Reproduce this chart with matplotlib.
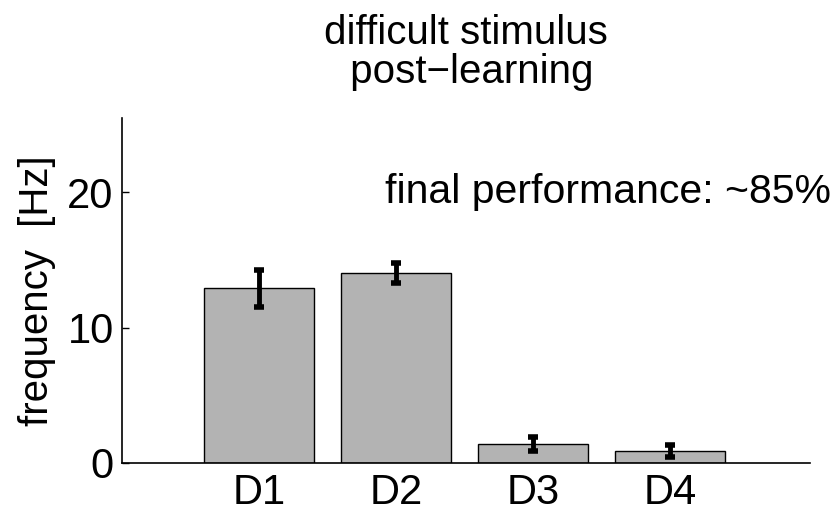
import matplotlib
matplotlib.use("Agg")
import matplotlib.pyplot as plt
import numpy as np

plt.rcParams['font.family'] = ['Liberation Sans', 'DejaVu Sans']

# values
labels = ["D1", "D2", "D3", "D4"]
freq = [12.9, 14.05, 1.42, 0.89]
err = [1.35, 0.75, 0.5, 0.42]
yticks = [0, 10, 20]

fig = plt.figure(figsize=(8.38, 5.13), dpi=100)
ax = fig.add_axes([0.1456, 0.0975, 0.821, 0.6725])

x = np.arange(1, len(labels) + 1)
ax.bar(x, freq, width=0.8, color="#b3b3b3", edgecolor="black", linewidth=1.0, zorder=2)
ax.errorbar(x, freq, yerr=err, fmt="none", ecolor="black", elinewidth=3.5,
            capsize=3.5, capthick=4, zorder=3)

ax.set_xlim(0, 5.02)
ax.set_ylim(0, 25.5)
ax.set_xticks(x)
ax.set_xticklabels(labels)
ax.set_yticks(yticks)
ax.tick_params(axis="y", direction="in", length=5, width=1, labelsize=30, pad=6)
ax.tick_params(axis="x", length=0, labelsize=30, pad=7)
for s in ["top", "right"]:
    ax.spines[s].set_visible(False)
for s in ["left", "bottom"]:
    ax.spines[s].set_linewidth(1.2)

ax.set_ylabel("frequency  [Hz]", fontsize=29, labelpad=8)
ax.set_title("difficult stimulus\n post\u2212learning", fontsize=29, pad=25, linespacing=1.05)
ax.text(1.92, 20, "final performance: ~85%", fontsize=29.5, ha="left", va="center",
        clip_on=False)

fig.savefig("out.png", dpi=100)
